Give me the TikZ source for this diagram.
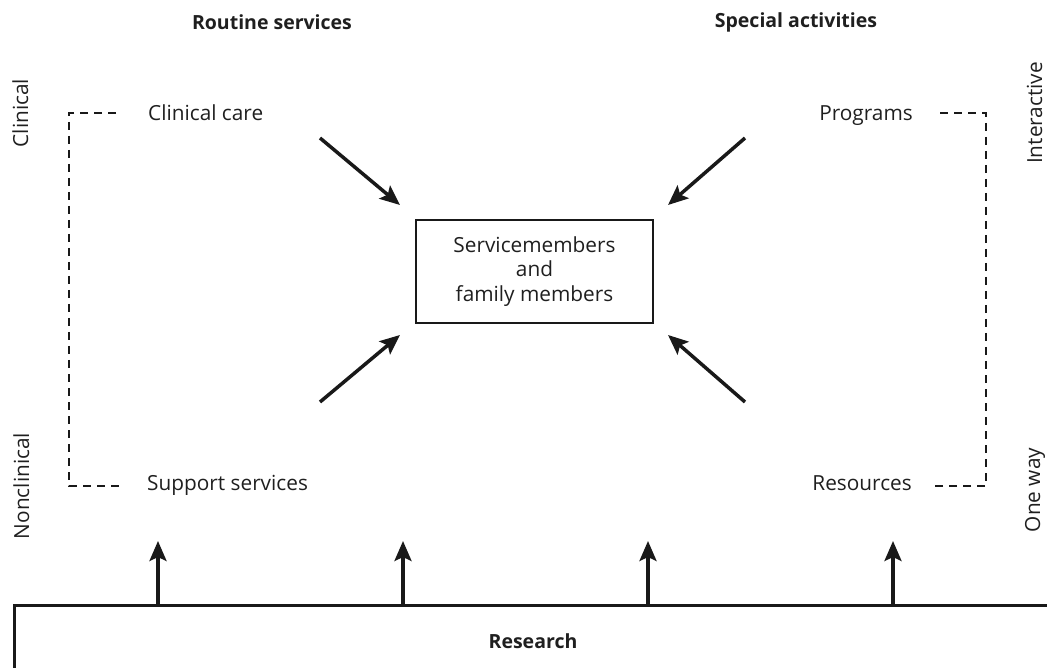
\documentclass[tikz,border=0pt]{standalone}
\usepackage{fontspec}
\setmainfont{Open Sans}
\usetikzlibrary{arrows.meta}
\begin{document}
\begin{tikzpicture}[x=1pt,y=-1pt,
  lbl/.style={font=\fontsize{20.8}{24}\selectfont, inner sep=0pt, text=black!88},
  hdr/.style={font=\fontsize{19.5}{23}\selectfont\bfseries, inner sep=0pt, text=black!88},
  dashline/.style={line width=2.5pt, dash pattern=on 8pt off 6pt, black!90},
  arr/.style={line width=3.5pt, black!90, -{Stealth[length=20pt,width=17pt,inset=4pt]}},
  centerbox/.style={draw=black!90, line width=2.5pt, minimum width=237pt, minimum height=103pt, align=center, font=\fontsize{20.8}{24.7}\selectfont, text=black!88},
]
\useasboundingbox (0,0) rectangle (1047,668);
\node[hdr] (rs) at (272,22) {Routine services};
\node[hdr] (sa) at (796,22) {Special activities};
\node[lbl, rotate=90, anchor=base] (cl) at (28,113) {Clinical};
\node[lbl, rotate=90, anchor=base] (ncl) at (29,486) {Nonclinical};
\node[lbl, rotate=90, anchor=base] (inter) at (1042,113) {Interactive};
\node[lbl, rotate=90, anchor=base] (ow) at (1040,490) {One way};
\node[lbl, anchor=base west] (cc) at (148,121) {Clinical care};
\node[lbl, anchor=base west] (ss) at (147,490) {Support services};
\node[lbl, anchor=base east] (pg) at (913,121) {Programs};
\node[lbl, anchor=base east] (rsrc) at (912,490) {Resources};
\coordinate (l1) at (116,113);
\coordinate (l2) at (69,113);
\coordinate (l3) at (69,486);
\coordinate (l4) at (122,486);
\coordinate (r1) at (940,113);
\coordinate (r2) at (986,113);
\coordinate (r3) at (986,486);
\coordinate (r4) at (933,486);
\draw[dashline] (l1) -- (l2) -- (l3) -- (l4);
\draw[dashline] (r1) -- (r2) -- (r3) -- (r4);
\node[centerbox] (sm) at (534.5,271.5) {Servicemembers\\and\\family members};
\coordinate (a1s) at (320,138); \coordinate (a1e) at (400,205);
\coordinate (a2s) at (745,138); \coordinate (a2e) at (668,205);
\coordinate (a3s) at (320,402); \coordinate (a3e) at (400,335);
\coordinate (a4s) at (745,402); \coordinate (a4e) at (668,335);
\draw[arr] (a1s) -- (a1e);
\draw[arr] (a2s) -- (a2e);
\draw[arr] (a3s) -- (a3e);
\draw[arr] (a4s) -- (a4e);
\node[draw=black!90, line width=2.5pt, anchor=north west, minimum width=1060pt, minimum height=90pt, inner sep=0pt] (res) at (13,604) {};
\node[hdr] (rl) at (533,641) {Research};
\foreach \x [count=\i] in {158,403,648,893} {
  \coordinate (u\i) at (\x,604);
  \coordinate (t\i) at (\x,541);
  \draw[arr] (u\i) -- (t\i);
}
\end{tikzpicture}
\end{document}
